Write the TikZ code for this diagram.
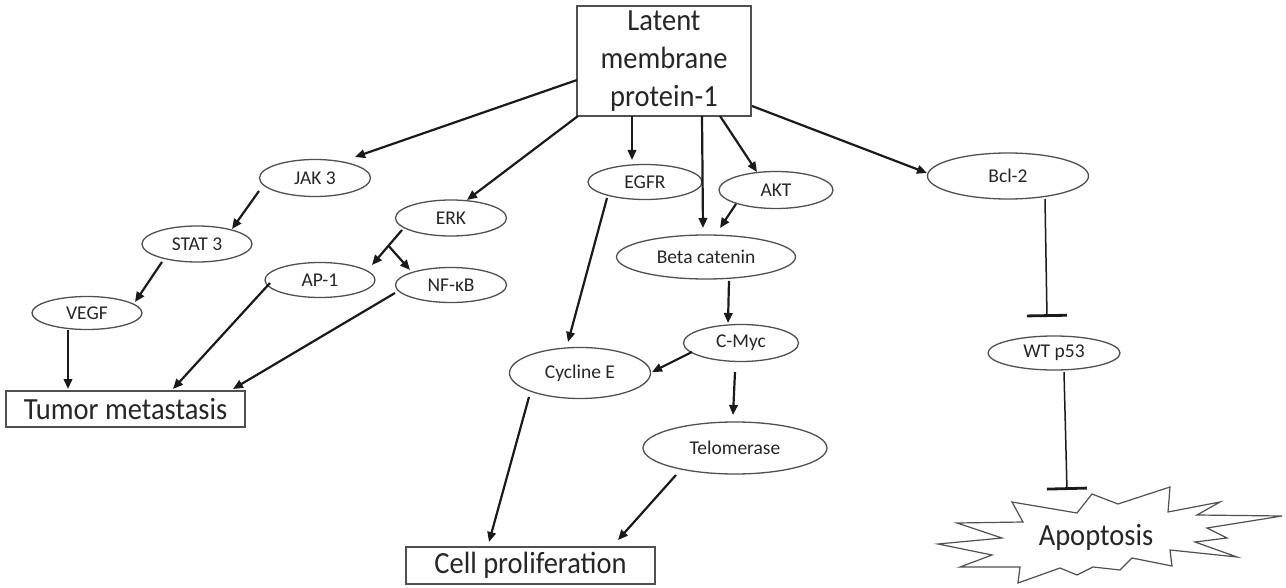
\documentclass[tikz,border=0pt]{standalone}
\usepackage{fontspec}
\setmainfont{Carlito}
\usetikzlibrary{shapes.geometric,arrows.meta,calc}
\definecolor{edgegray}{HTML}{505050}
\definecolor{arrowblk}{HTML}{1A1A1A}
\newcommand{\tallbig}[1]{\scalebox{1}[1.08]{#1}}
\begin{document}
\begin{tikzpicture}[x=1pt,y=-1pt,
  ell/.style={ellipse,draw=edgegray,line width=1.3pt,inner sep=0pt,font=\fontsize{19.5}{23}\selectfont,text=black!85},
  bigbox/.style={rectangle,draw=edgegray,line width=1.3pt,inner sep=0pt,font=\fontsize{28.5}{38}\selectfont,text=black!85},
  act/.style={draw=arrowblk,line width=2.2pt,-{Triangle[length=10pt,width=8.5pt]}},
  inh/.style={draw=arrowblk,line width=1.5pt,-{Bar[width=40pt,line width=2.8pt]}}]
\useasboundingbox (0,0) rectangle (1286,588);
\fill[white] (0,0) rectangle (1286,588);

% nodes
\node[bigbox,minimum width=174pt,minimum height=110pt,align=center] (lmp) at (664,61) {\tallbig{Latent}\\\tallbig{membrane}\\\tallbig{protein-1}};
\node[ell,minimum width=111pt,minimum height=37pt] (jak) at (315,178) {JAK 3};
\node[ell,minimum width=110pt,minimum height=36pt] (stat) at (197,244) {STAT 3};
\node[ell,minimum width=110pt,minimum height=33pt] (vegf) at (87,313) {VEGF};
\node[ell,minimum width=111pt,minimum height=36pt] (erk) at (451,218) {ERK};
\node[ell,minimum width=110pt,minimum height=35pt] (ap1) at (320,280) {AP-1};
\node[ell,minimum width=111pt,minimum height=35pt] (nfkb) at (451,285) {NF-κB};
\node[bigbox,minimum width=239pt,minimum height=36pt] (tumor) at (125.5,409) {\tallbig{Tumor metastasis}};
\node[ell,minimum width=114pt,minimum height=35pt] (egfr) at (645,182) {EGFR};
\node[ell,minimum width=114pt,minimum height=37pt] (akt) at (776,190) {AKT};
\node[ell,minimum width=179pt,minimum height=44pt] (beta) at (706,257) {Beta catenin};
\node[ell,minimum width=115pt,minimum height=37pt] (cmyc) at (741,343) {C-Myc};
\node[ell,minimum width=141pt,minimum height=51pt] (cyc) at (580,373) {Cycline E};
\node[ell,minimum width=184pt,minimum height=52pt] (telo) at (735,448) {Telomerase};
\node[bigbox,minimum width=249pt,minimum height=37pt] (cell) at (530.5,565.5) {\tallbig{Cell proliferation}};
\node[ell,minimum width=161pt,minimum height=46pt] (bcl) at (1008,176) {Bcl-2};
\node[ell,minimum width=132pt,minimum height=34pt] (p53) at (1054,353) {WT p53};

% apoptosis starburst
\draw[edgegray,line width=1.2pt,line join=miter]
  (1092,494) -- (1118,504) -- (1170,487) -- (1168,512) -- (1220,502) -- (1197,515)
  -- (1282,516) -- (1207,528) -- (1227,538) -- (1195,542) -- (1237,557) -- (1170,550)
  -- (1172,566) -- (1132,558) -- (1120,570) -- (1093,567) -- (1077,575) -- (1060,568)
  -- (1018,583) -- (1020,567) -- (960,567) -- (992,555) -- (938,544) -- (1002,538)
  -- (957,523) -- (1023,522) -- (1012,502) -- (1077,513) -- cycle;
\node[font=\fontsize{28.5}{34}\selectfont,text=black!85,inner sep=0pt] (apop) at (1096,537) {\tallbig{Apoptosis}};

% activating connectors
\draw[act] ($(lmp)+(-87,19)$) -- ($(jak)+(40,-21)$);
\draw[act] ($(lmp)+(-86,55)$) -- ($(erk)+(16,-18)$);
\draw[act] ($(lmp)+(-32,55)$) -- ($(egfr)+(-13,-22)$);
\draw[act] ($(lmp)+(38,55)$) -- ($(beta)+(-3,-29)$);
\draw[act] ($(lmp)+(56,55)$) -- ($(akt)+(-19,-18)$);
\draw[act] ($(lmp)+(88,45)$) -- ($(bcl)+(-81,-3)$);
\draw[act] ($(jak)+(-56,13)$) -- ($(stat)+(35,-15)$);
\draw[act] ($(stat)+(-35,18)$) -- ($(vegf)+(48,-11)$);
\draw[act] ($(erk)+(-49,12)$) coordinate (erkout) -- ($(ap1)+(52,-15)$) coordinate (ap1in);
\draw[act] ($(erkout)!0.45!(ap1in)$) -- ($(nfkb)+(-41,-15)$);
\draw[act] ($(vegf)+(-19,17)$) -- ($(tumor)+(-57.5,-20)$);
\draw[act] ($(ap1)+(-50,3)$) -- ($(tumor)+(47.5,-20)$);
\draw[act] ($(nfkb)+(-56,8)$) -- ($(tumor)+(107.5,-20)$);
\draw[act] ($(egfr)+(-38,16)$) -- ($(cyc)+(-12,-31)$);
\draw[act] ($(akt)+(-40,14)$) -- ($(beta)+(14,-29)$);
\draw[act] ($(beta)+(23,24)$) -- ($(cmyc)+(-13,-20)$);
\draw[act] ($(cmyc)+(-49,9)$) -- ($(cyc)+(72,-1)$);
\draw[act] ($(cmyc)+(-6,29)$) -- ($(telo)+(-2,-33)$);
\draw[act] ($(cyc)+(-51,24)$) -- ($(cell)+(-41.5,-23.5)$);
\draw[act] ($(telo)+(-59,27)$) -- ($(cell)+(87.5,-25.5)$);

% inhibitory connectors
\draw[inh] ($(bcl)+(37,23)$) -- ($(p53)+(-7,-36)$);
\draw[inh] ($(p53)+(10,19)$) -- ($(apop)+(-29,-47)$);
\end{tikzpicture}
\end{document}
